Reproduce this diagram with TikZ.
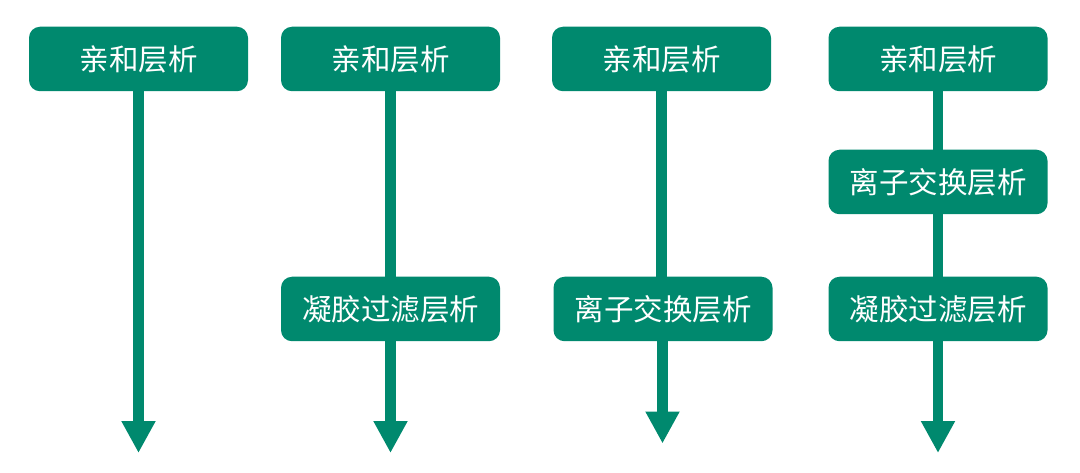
\documentclass[tikz,border=0pt]{standalone}
\usepackage{fontspec}
\newfontfamily\cjk{Noto Sans CJK SC}
\usetikzlibrary{arrows.meta}
\definecolor{teal}{RGB}{0,137,110}
\tikzset{
  stepbox/.style={fill=teal, rounded corners=11pt, minimum width=219pt, minimum height=64.5pt,
    inner sep=0pt, text=white, font=\cjk\fontsize{29.5pt}{31pt}\selectfont},
  flow/.style={draw=teal, line width=10.8pt},
  flowend/.style={flow, -{Triangle[width=32pt,length=32pt]}},
}
\begin{document}
\begin{tikzpicture}[x=1pt,y=-1pt]
\useasboundingbox (0,0) rectangle (1080,473);
% column 1
\node[stepbox] (a1) at (138.5,59) {亲和层析};
\coordinate (e1) at (138.5,453);
% column 2
\node[stepbox] (a2) at (390.5,59) {亲和层析};
\node[stepbox] (b2) at (390.5,309) {凝胶过滤层析};
\coordinate (e2) at (390.5,453);
% column 3
\node[stepbox] (a3) at (661.5,59) {亲和层析};
\node[stepbox] (b3) at (663,309) {离子交换层析};
\coordinate (e3) at (662.5,443.5);
% column 4
\node[stepbox] (a4) at (938,59) {亲和层析};
\node[stepbox] (m4) at (938,182) {离子交换层析};
\node[stepbox] (b4) at (938,309) {凝胶过滤层析};
\coordinate (e4) at (938,453);
% connectors
\draw[flowend] (a1.south) -- (e1);
\draw[flow] (a2.south) -- (b2.north);
\draw[flowend] (b2.south) -- (e2);
\draw[flow] (a3.south) -- (a3.south |- b3.north);
\draw[flowend] (b3.south -| e3) -- (e3);
\draw[flow] (a4.south) -- (m4.north);
\draw[flow] (m4.south) -- (b4.north);
\draw[flowend] (b4.south) -- (e4);
\end{tikzpicture}
\end{document}
